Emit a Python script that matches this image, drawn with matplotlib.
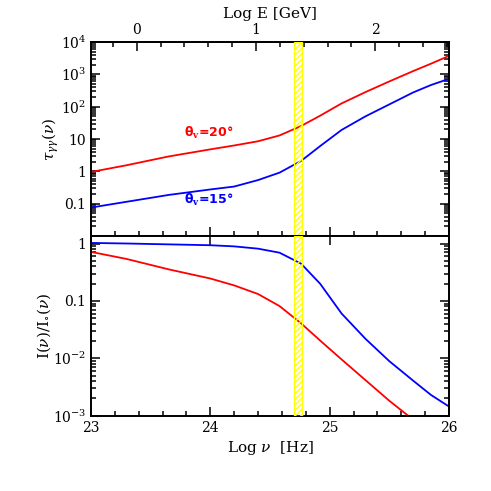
import matplotlib
matplotlib.use("Agg")
import matplotlib.pyplot as plt
import numpy as np
from matplotlib.ticker import MultipleLocator, LogLocator, FixedLocator, FixedFormatter, NullFormatter

plt.rcParams["font.family"] = "DejaVu Serif"
plt.rcParams["mathtext.fontset"] = "dejavuserif"

# log10(nu / Hz) sample points
log_nu = [23.0, 23.3, 23.65, 24.0, 24.2, 24.4, 24.58, 24.76, 24.92, 25.1, 25.3, 25.5, 25.7, 25.85, 26.0]

# optical depth, log10 tau, for the two viewing angles
log_tau_20 = [-0.02, 0.19, 0.46, 0.68, 0.80, 0.93, 1.11, 1.40, 1.72, 2.10, 2.45, 2.78, 3.10, 3.33, 3.57]
log_tau_15 = [-1.12, -0.94, -0.73, -0.56, -0.47, -0.27, -0.04, 0.32, 0.78, 1.28, 1.70, 2.07, 2.44, 2.67, 2.86]

# attenuation, log10 I/I0
log_att_20 = [-0.146, -0.27, -0.45, -0.61, -0.73, -0.88, -1.09, -1.39, -1.69, -2.02, -2.38, -2.74, -3.07, -3.33, -3.6]
log_att_15 = [0.01, 0.0, -0.015, -0.03, -0.05, -0.09, -0.16, -0.35, -0.70, -1.22, -1.66, -2.05, -2.39, -2.64, -2.84]

band = (24.70, 24.77)          # shaded frequency band
nu_gev = 23.383                # log10 of nu for 1 GeV

energy_ticks = [0, 1, 2]
tau_ticks = [0.1, 1, 10, 100, 1000, 10000]
tau_labels = ["0.1", "1", "10", "$10^2$", "$10^3$", "$10^4$"]
att_ticks = [1e-3, 1e-2, 0.1, 1]
att_labels = ["$10^{-3}$", "$10^{-2}$", "0.1", "1"]

RED = "#ff0000"
BLUE = "#0000ff"

fig = plt.figure(figsize=(4.91, 4.91), dpi=100)
ax1 = fig.add_axes([0.1853, 0.5193, 0.7291, 0.3952])
ax2 = fig.add_axes([0.1853, 0.1534, 0.7291, 0.3659])


def style(ax):
    for s in ax.spines.values():
        s.set_linewidth(1.4)
    ax.tick_params(which="both", direction="in", right=True, width=1.1, labelsize=10)
    ax.tick_params(which="major", length=6.5)
    ax.tick_params(which="minor", length=3.3)
    ax.set_xlim(23, 26)
    ax.xaxis.set_major_locator(MultipleLocator(1))
    ax.xaxis.set_minor_locator(MultipleLocator(0.2))
    ax.yaxis.set_minor_locator(LogLocator(base=10, subs=np.arange(2, 10)))
    ax.yaxis.set_minor_formatter(NullFormatter())


nu = np.array(log_nu)

# top panel: optical depth
ax1.set_yscale("log")
ax1.plot(nu, 10 ** np.array(log_tau_20), color=RED, lw=1.3)
ax1.plot(nu, 10 ** np.array(log_tau_15), color=BLUE, lw=1.3)
ax1.set_ylim(0.01, 1e4)
style(ax1)
ax1.tick_params(axis="x", top=False, labelbottom=False)
ax1.yaxis.set_major_locator(FixedLocator(tau_ticks))
ax1.yaxis.set_major_formatter(FixedFormatter(tau_labels))
ax1.set_ylabel(r"$\tau_{\gamma\gamma}(\nu)$", fontsize=11, labelpad=0)
ax1.text(23.99, 15, "θ$_\\mathbf{v}$=20°", color=RED, fontsize=9,
         fontweight="bold", family="DejaVu Sans", ha="center", va="center")
ax1.text(23.99, 0.13, "θ$_\\mathbf{v}$=15°", color=BLUE, fontsize=9,
         fontweight="bold", family="DejaVu Sans", ha="center", va="center")

sec = ax1.secondary_xaxis("top", functions=(lambda x: x - nu_gev, lambda e: e + nu_gev))
sec.xaxis.set_major_locator(FixedLocator(energy_ticks))
sec.xaxis.set_minor_locator(MultipleLocator(0.2))
sec.tick_params(which="both", direction="in", width=1.1, labelsize=10)
sec.tick_params(which="major", length=6.5)
sec.tick_params(which="minor", length=3.3)
sec.spines["top"].set_linewidth(1.4)
sec.set_xlabel("Log E [GeV]", fontsize=11, labelpad=4)

# bottom panel: attenuation
ax2.set_yscale("log")
ax2.plot(nu, 10 ** np.array(log_att_20), color=RED, lw=1.3)
ax2.plot(nu, 10 ** np.array(log_att_15), color=BLUE, lw=1.3)
ax2.set_ylim(1e-3, 1.35)
style(ax2)
ax2.tick_params(axis="x", top=True)
ax2.yaxis.set_major_locator(FixedLocator(att_ticks))
ax2.yaxis.set_major_formatter(FixedFormatter(att_labels))
ax2.set_ylabel(r"$\mathrm{I}(\nu)/\mathrm{I}_{\circ}(\nu)$", fontsize=11, labelpad=0)
ax2.set_xlabel(r"Log $\nu$  [Hz]", fontsize=11, labelpad=3)
ax2.xaxis.set_major_formatter(plt.FuncFormatter(lambda v, p: f"{v:.0f}"))

for ax in (ax1, ax2):
    ax.axvspan(band[0], band[1], facecolor="none", edgecolor="#ffff00",
               hatch="//////", lw=1.0, zorder=3)

fig.savefig("out.png", dpi=100)
